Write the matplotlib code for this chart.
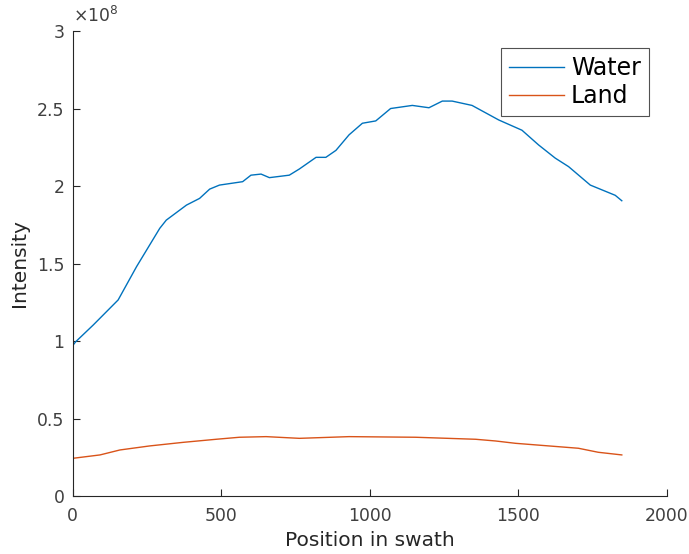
import matplotlib
matplotlib.use("Agg")
from matplotlib import pyplot as plt
from matplotlib.ticker import FuncFormatter

# swath positions and intensities
water_x = [0, 10, 69, 153, 215, 293, 315, 383, 427, 461, 494, 572, 600, 634, 662,
           729, 763, 819, 852, 886, 930, 975, 1020, 1070, 1143, 1199, 1244, 1277,
           1344, 1434, 1512, 1568, 1624, 1669, 1742, 1826, 1848]
water_y = [0.97, 0.995, 1.103, 1.265, 1.48, 1.727, 1.78, 1.877, 1.92, 1.98, 2.006,
           2.028, 2.07, 2.077, 2.054, 2.07, 2.11, 2.185, 2.185, 2.23, 2.33, 2.405,
           2.42, 2.50, 2.52, 2.505, 2.548, 2.548, 2.52, 2.426, 2.36, 2.265, 2.18,
           2.125, 2.006, 1.94, 1.905]
land_x = [0, 92, 159, 259, 371, 483, 561, 651, 763, 930, 1154, 1356, 1423, 1490,
          1702, 1769, 1848]
land_y = [0.243, 0.265, 0.297, 0.323, 0.346, 0.366, 0.379, 0.383, 0.372, 0.383,
          0.379, 0.366, 0.355, 0.34, 0.308, 0.282, 0.265]
scale = 1e8

fig = plt.figure(figsize=(6.89, 5.54), dpi=100)
ax = fig.add_axes([0.1055, 0.1047, 0.8625, 0.8393])

ax.plot(water_x, [v * scale for v in water_y], color='#0072BD', lw=1.0, label='Water')
ax.plot(land_x, [v * scale for v in land_y], color='#D95319', lw=1.0, label='Land')

ax.set_xlim(0, 2000)
ax.set_ylim(0, 3e8)
ax.set_xticks([0, 500, 1000, 1500, 2000])
ax.set_yticks([i * 0.5e8 for i in range(7)])
ax.yaxis.set_major_formatter(FuncFormatter(lambda v, p: f"{v / scale:g}"))

# box off, matlab style
for s in ['top', 'right']:
    ax.spines[s].set_visible(False)
for s in ['left', 'bottom']:
    ax.spines[s].set_color('#262626')
    ax.spines[s].set_linewidth(0.8)
ax.tick_params(direction='in', length=5, width=0.8, colors='#262626',
               labelcolor='#404040', labelsize=12.4)
ax.tick_params(axis='x', pad=8)
ax.tick_params(axis='y', pad=6)

ax.text(0.0, 1.01, r'$\times 10^{8}$', transform=ax.transAxes, fontsize=12.4,
        color='#404040', ha='left', va='bottom')

ax.set_xlabel('Position in swath', fontsize=14.5, color='#262626', labelpad=4)
ax.set_ylabel('Intensity', fontsize=14.5, color='#262626', labelpad=6)

leg = ax.legend(loc='upper right', bbox_to_anchor=(0.9697, 0.9634), fontsize=17,
                frameon=True, fancybox=False, edgecolor='#262626',
                handlelength=2.3, borderpad=0.35, labelspacing=0.15,
                handletextpad=0.3, borderaxespad=0)
leg.get_frame().set_linewidth(0.8)

fig.savefig('out.png', dpi=100)
